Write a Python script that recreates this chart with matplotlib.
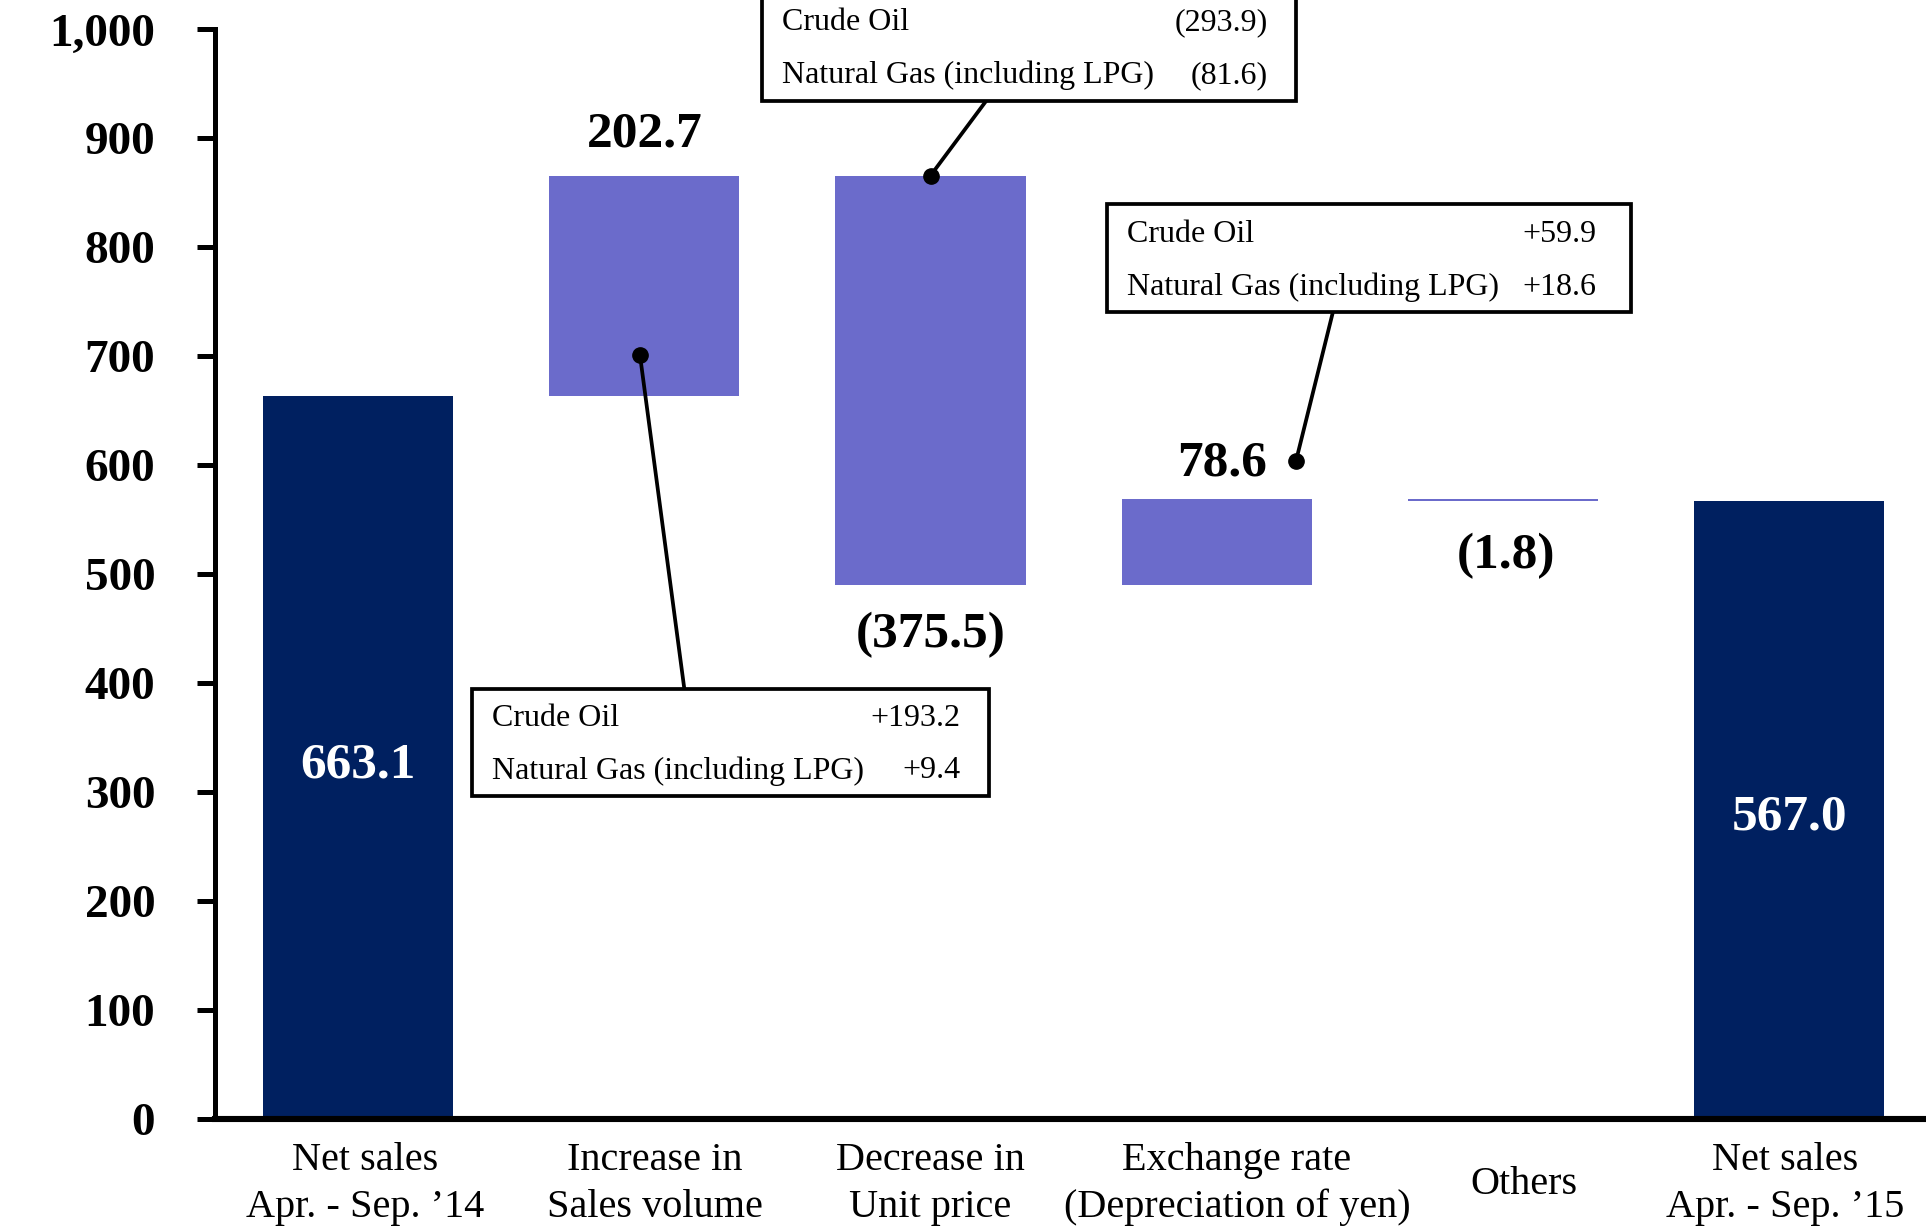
import matplotlib
matplotlib.use("Agg")
import matplotlib.pyplot as plt
from matplotlib.patches import Rectangle
import numpy as np

# net sales bridge, billions of yen
categories = ["Net sales\nApr. - Sep. \u201914", "Increase in\nSales volume",
              "Decrease in\nUnit price", "Exchange rate\n(Depreciation of yen)",
              "Others", "Net sales\nApr. - Sep. \u201915"]
start_total = 663.1
changes = [202.7, -375.5, 78.6, -1.8]
end_total = 567.0

change_labels = ["202.7", "(375.5)", "78.6", "(1.8)"]

# breakdown boxes: (row name, value text)
volume_items = [("Crude Oil", "+193.2"), ("Natural Gas (including LPG)", "+9.4")]
price_items = [("Crude Oil", "(293.9)"), ("Natural Gas (including LPG)", "(81.6)")]
fx_items = [("Crude Oil", "+59.9"), ("Natural Gas (including LPG)", "+18.6")]

yticks = [0, 100, 200, 300, 400, 500, 600, 700, 800, 900, 1000]

navy = "#002060"
purple = "#6B6BCB"

plt.rcParams['font.family'] = ['Liberation Serif', 'DejaVu Serif']

fig = plt.figure(figsize=(19.26, 12.26), dpi=100)
ax = fig.add_axes([0.1116, 0.0873, 1 - 0.1116, 1 - 0.0873])

x = np.arange(len(categories))
width = 0.665

# running totals for the floating bars
bottoms = []
level = start_total
for c in changes:
    bottoms.append(level if c > 0 else level + c)
    level += c

ax.bar(x[0], start_total, width, color=navy)
ax.bar(x[1:5], np.abs(changes), width, bottom=bottoms, color=purple)
ax.bar(x[5], end_total, width, color=navy)

# totals inside the dark bars
ax.text(x[0], 324, "%.1f" % start_total, color="white", fontsize=37,
        fontweight="bold", ha="center", va="center")
ax.text(x[5], 277, "%.1f" % end_total, color="white", fontsize=37,
        fontweight="bold", ha="center", va="center")

# change labels
tops = [b + abs(c) for b, c in zip(bottoms, changes)]
ax.text(x[1], tops[0] + 38, change_labels[0], fontsize=37, fontweight="bold",
        ha="center", va="center")
ax.text(x[2], bottoms[1] - 46, change_labels[1], fontsize=37, fontweight="bold",
        ha="center", va="center")
ax.text(x[3] + 0.02, tops[2] + 33, change_labels[2], fontsize=37, fontweight="bold",
        ha="center", va="center")
ax.text(x[4] + 0.01, bottoms[3] - 50, change_labels[3], fontsize=37, fontweight="bold",
        ha="center", va="center")


def breakdown_box(x0, x1, y0, y1, items, row_y, rpad=0.10):
    ax.add_patch(Rectangle((x0, y0), x1 - x0, y1 - y0, facecolor="white",
                           edgecolor="black", linewidth=2.7, zorder=4,
                           clip_on=False))
    for (name, val), ry in zip(items, row_y):
        ax.text(x0 + 0.07, ry, name, fontsize=23, ha="left", va="center",
                zorder=5)
        ax.text(x1 - rpad, ry, val, fontsize=23, ha="right", va="center",
                zorder=5)


def leader(xa, ya, xb, yb):
    ax.plot([xa, xb], [ya, yb], color="black", linewidth=2.7, zorder=3)
    ax.plot([xb], [yb], "o", color="black", markersize=11, zorder=3)


breakdown_box(0.397, 2.204, 296.5, 394.6, volume_items, [368, 319.5])
leader(1.14, 394.6, 0.985, 701)

breakdown_box(1.41, 3.277, 934.6, 1045, price_items, [1006.5, 957.5])
leader(2.195, 934.6, x[2], tops[1])

breakdown_box(2.616, 4.448, 740.7, 840, fx_items, [812, 763.5], rpad=0.12)
leader(3.406, 740.7, 3.277, 604)

ax.set_xlim(-0.5, 5.478)
ax.set_ylim(0, 1027)
ax.set_yticks(yticks)
ax.set_yticklabels(["{:,}".format(v) for v in yticks], fontsize=34,
                   fontweight="bold")

# category names under the axis, each centred on its own block
label_shift = [0.024, 0.036, 0.0, 0.071, 0.075, -0.015]
ax.set_xticks(x)
ax.set_xticklabels([])
for xi, name, dx in zip(x, categories, label_shift):
    ax.annotate(name, xy=(xi + dx, 0), xycoords=("data", "axes fraction"),
                xytext=(0, -47), textcoords="offset points", fontsize=29,
                ha="center", va="center", linespacing=1.34,
                annotation_clip=False)

ax.tick_params(axis="y", length=13, width=3.6, pad=30)
ax.tick_params(axis="x", length=0)

for s in ["top", "right"]:
    ax.spines[s].set_visible(False)
ax.spines["left"].set_linewidth(3.6)
ax.spines["left"].set_bounds(0, 1000)
ax.spines["bottom"].set_linewidth(4.4)
ax.spines["bottom"].set_zorder(6)

fig.savefig("out.png", dpi=100)
